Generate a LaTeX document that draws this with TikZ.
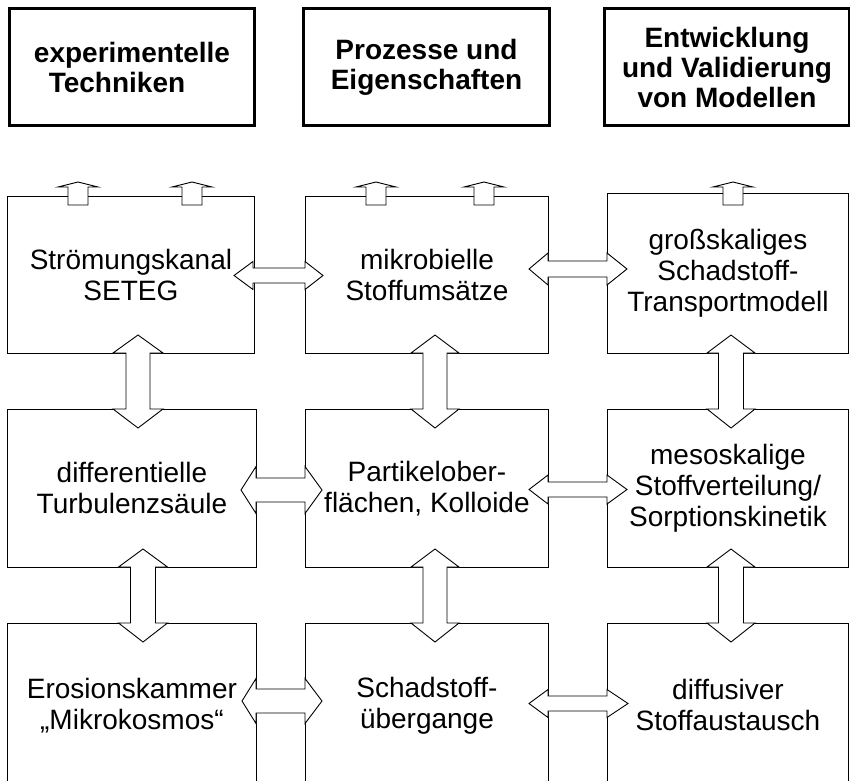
\documentclass[tikz,border=0pt]{standalone}
\usepackage{fontspec}
\setmainfont{Liberation Sans}
\newcommand{\hdarr}[7]{% left tip, left back, right back, right tip, yc, shaft half, head half
  \draw[blk] ({#1},{#5}) -- ({#2},{#5-#7}) -- ({#2},{#5-#6}) -- ({#3},{#5-#6}) -- ({#3},{#5-#7})
    -- ({#4},{#5}) -- ({#3},{#5+#7}) -- ({#3},{#5+#6}) -- ({#2},{#5+#6}) -- ({#2},{#5+#7}) -- cycle;}
\newcommand{\vdarr}[7]{% xc, top tip, top base, bottom base, bottom tip, shaft half, head half
  \draw[blk] ({#1},{#2}) -- ({#1+#7},{#3}) -- ({#1+#6},{#3}) -- ({#1+#6},{#4}) -- ({#1+#7},{#4})
    -- ({#1},{#5}) -- ({#1-#7},{#4}) -- ({#1-#6},{#4}) -- ({#1-#6},{#3}) -- ({#1-#7},{#3}) -- cycle;}
\newcommand{\uparr}[2]{% xc, top of box
  \draw[blk] ({#1},182) -- ({#1+20},187) -- ({#1+10},187) -- ({#1+10},205) -- ({#1-10},205)
    -- ({#1-10},187) -- ({#1-20},187) -- cycle;}
\begin{document}
\begin{tikzpicture}[x=1pt,y=-1pt,line join=miter,
  hdr/.style={draw, line width=3pt, anchor=north west, inner sep=0pt, align=center,
    font=\bfseries\fontsize{28}{30}\selectfont},
  cell/.style={draw, line width=0.9pt, anchor=north west, inner sep=0pt, align=center,
    font=\fontsize{28}{31}\selectfont},
  opencell/.style={cell, draw=none},
  blk/.style={draw, fill=white, line width=0.9pt}]
\useasboundingbox (0,0) rectangle (850,780);
% header boxes
\node[hdr, minimum width=245pt, minimum height=117pt] (h1) at (8,7) {experimentelle\\Techniken\hspace*{30pt}};
\node[hdr, minimum width=246pt, minimum height=117pt] (h2) at (302,7) {Prozesse und\\Eigenschaften};
\node[hdr, minimum width=245pt, minimum height=117pt] (h3) at (603,7) {Entwicklung\\und Validierung\\von Modellen};
% row 1
\node[cell, minimum width=247pt, minimum height=157pt] (b11) at (7,196) {Strömungskanal\\SETEG};
\node[cell, minimum width=243pt, minimum height=157pt] (b12) at (305,196) {mikrobielle\\Stoffumsätze};
\node[cell, minimum width=241pt, minimum height=160pt] (b13) at (607,193) {großskaliges\\Schadstoff-\\Transportmodell};
% row 2
\node[cell, minimum width=249pt, minimum height=158pt] (b21) at (7,409) {differentielle\\Turbulenzsäule};
\node[cell, minimum width=243pt, minimum height=158pt] (b22) at (305,409) {Partikelober-\\flächen, Kolloide};
\node[cell, minimum width=241pt, minimum height=158pt] (b23) at (607,409) {mesoskalige\\Stoffverteilung/\\Sorptionskinetik};
% row 3 (open at the bottom)
\node[opencell, minimum width=249pt, minimum height=164pt] (b31) at (7,623) {Erosionskammer\\„Mikrokosmos“};
\node[opencell, minimum width=243pt, minimum height=164pt] (b32) at (305,623) {Schadstoff-\\übergange};
\node[opencell, minimum width=241pt, minimum height=164pt] (b33) at (607,623) {diffusiver\\Stoffaustausch};
\foreach \b in {b31,b32,b33}
  \draw[line width=0.9pt] (\b.south west) -- (\b.north west) -- (\b.north east) -- (\b.south east);
% small up arrows on top of row 1
\uparr{78}{196}
\uparr{192}{196}
\uparr{376}{196}
\uparr{484}{196}
\uparr{733}{193}
% horizontal double arrows
\hdarr{234}{253}{305}{323}{275.5}{7.5}{14}
\hdarr{529}{548}{607}{627}{269}{8}{16}
\hdarr{241}{256}{305}{322}{490}{12}{23.5}
\hdarr{529}{548}{607}{627}{489.5}{7.5}{14.5}
\hdarr{242}{256}{305}{322}{701}{12}{22.5}
\hdarr{529}{548}{607}{628}{703.5}{7.5}{14}
% vertical double arrows
\vdarr{138}{335}{353}{409}{428}{12}{25}
\vdarr{435}{335}{353}{409}{428}{12}{24}
\vdarr{731}{335}{353}{409}{428}{12.5}{24}
\vdarr{143}{549}{567}{623}{642}{12.5}{24.5}
\vdarr{435}{549}{567}{623}{642}{12}{24}
\vdarr{731}{549}{567}{623}{642}{12.5}{24}
\end{tikzpicture}
\end{document}
